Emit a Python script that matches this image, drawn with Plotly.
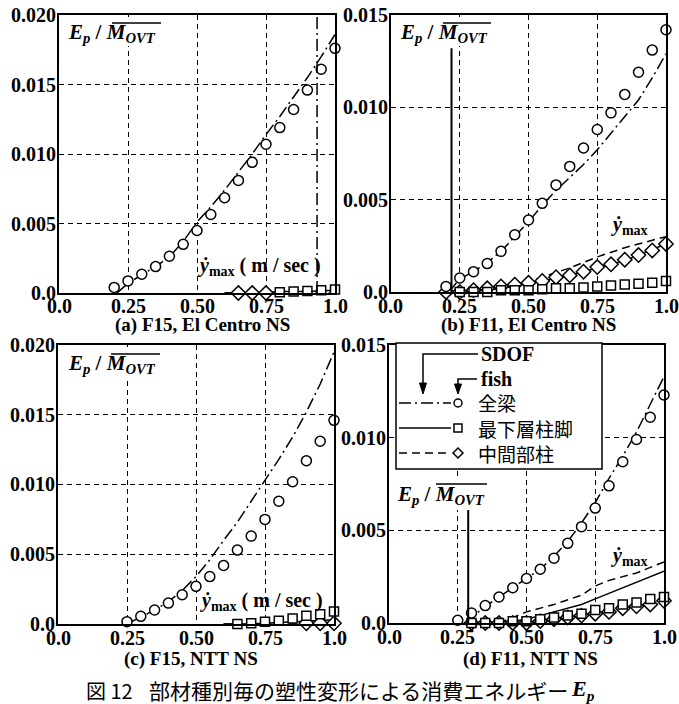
import plotly.graph_objects as go

W, H = 679, 704

# ---------------- data ----------------
xt_vals = [0.0, 0.25, 0.5, 0.75, 1.0]
xt_text = ["0.0", "0.25", "0.50", "0.75", "1.0"]
yt_vals_20 = [0.0, 0.005, 0.010, 0.015, 0.020]
yt_text_20 = ["0.0", "0.005", "0.010", "0.015", "0.020"]
yt_vals_15 = [0.0, 0.005, 0.010, 0.015]
yt_text_15 = ["0.0", "0.005", "0.010", "0.015"]

# (a) F15, El Centro NS
a_circle_x = [0.20, 0.25, 0.30, 0.35, 0.40, 0.45, 0.50, 0.55, 0.60, 0.65, 0.70, 0.75, 0.80, 0.85, 0.90, 0.95, 1.00]
a_circle = [0.0004, 0.00087, 0.00135, 0.0019, 0.00264, 0.0035, 0.0045, 0.00565, 0.00685, 0.0081, 0.0094, 0.0107, 0.0119, 0.0132, 0.0146, 0.0161, 0.0176]
a_beam_x = [0.21, 0.25, 0.30, 0.35, 0.40, 0.45, 0.50, 0.55, 0.60, 0.65, 0.70, 0.75, 0.80, 0.85, 0.90, 0.95, 1.00]
a_beam = [0.0, 0.0007, 0.0013, 0.0019, 0.0026, 0.0037, 0.0051, 0.0062, 0.0074, 0.0087, 0.0100, 0.0114, 0.0127, 0.0141, 0.0155, 0.0170, 0.0186]
a_base_x = [0.60, 0.70, 0.80, 0.90, 1.00]
a_base = [0.0, 0.0, 0.0001, 0.0001, 0.0002]
a_mid_x = [0.60, 0.70, 0.80, 0.90, 1.00]
a_mid = [0.0, 0.0, 0.0, 0.0, 0.0]
a_square_x = [0.80, 0.85, 0.90, 0.95, 1.00]
a_square = [0.00005, 0.0001, 0.00015, 0.0002, 0.00025]
a_diamond_x = [0.65, 0.70, 0.75]
a_diamond = [0.0, 0.0, 0.0]
a_ymax = 0.935

# (b) F11, El Centro NS
b_circle_x = [0.20, 0.25, 0.30, 0.35, 0.40, 0.45, 0.50, 0.55, 0.60, 0.65, 0.70, 0.75, 0.80, 0.85, 0.90, 0.95, 1.00]
b_circle = [0.0003, 0.00076, 0.0011, 0.00154, 0.0022, 0.0031, 0.0039, 0.0048, 0.0058, 0.0068, 0.0078, 0.0088, 0.0097, 0.0107, 0.0119, 0.0131, 0.0142]
b_beam_x = [0.21, 0.25, 0.30, 0.35, 0.40, 0.45, 0.50, 0.55, 0.60, 0.65, 0.70, 0.75, 0.80, 0.85, 0.90, 0.95, 1.00]
b_beam = [0.0, 0.0007, 0.0011, 0.0016, 0.0022, 0.0030, 0.0038, 0.0047, 0.0055, 0.0062, 0.0069, 0.0077, 0.0086, 0.0095, 0.0104, 0.0116, 0.0129]
b_base_x = [0.25, 0.35, 0.45, 0.55, 0.65, 0.75, 0.85, 1.00]
b_base = [0.0, 0.0001, 0.0003, 0.0006, 0.0009, 0.0013, 0.0017, 0.0026]
b_mid_x = [0.25, 0.35, 0.45, 0.50, 0.55, 0.65, 0.75, 0.85, 1.00]
b_mid = [0.0, 0.0001, 0.0004, 0.00055, 0.0008, 0.0013, 0.0019, 0.0024, 0.0030]
b_square_x = [0.25, 0.30, 0.35, 0.40, 0.45, 0.50, 0.55, 0.60, 0.65, 0.70, 0.75, 0.80, 0.85, 0.90, 0.95, 1.00]
b_square = [0.0, 0.0, 0.0, 0.0001, 0.0001, 0.0001, 0.00015, 0.0002, 0.0002, 0.00025, 0.0003, 0.00035, 0.0004, 0.00045, 0.0005, 0.0006]
b_diamond_x = [0.20, 0.25, 0.30, 0.35, 0.40, 0.45, 0.50, 0.55, 0.60, 0.65, 0.70, 0.75, 0.80, 0.85, 0.90, 0.95, 1.00]
b_diamond = [0.0, 0.0, 0.0001, 0.0002, 0.0003, 0.0004, 0.0005, 0.0006, 0.0008, 0.0009, 0.0011, 0.00135, 0.0015, 0.00175, 0.0020, 0.00225, 0.0026]
b_ymax = 0.22
b_ymax_top = 0.0132

# (c) F15, NTT NS
c_circle_x = [0.25, 0.30, 0.35, 0.40, 0.45, 0.50, 0.55, 0.60, 0.65, 0.70, 0.75, 0.80, 0.85, 0.90, 0.95, 1.00]
c_circle = [0.00017, 0.00055, 0.0010, 0.0015, 0.0021, 0.0027, 0.0034, 0.0042, 0.0053, 0.0063, 0.0075, 0.0088, 0.0102, 0.0117, 0.0131, 0.0146]
c_beam_x = [0.25, 0.30, 0.35, 0.40, 0.45, 0.50, 0.55, 0.60, 0.65, 0.70, 0.75, 0.80, 0.85, 0.90, 0.95, 1.00]
c_beam = [0.0, 0.0005, 0.0010, 0.0016, 0.0024, 0.0034, 0.0046, 0.0060, 0.0073, 0.0088, 0.0103, 0.0118, 0.0134, 0.0152, 0.0172, 0.0195]
c_base_x = [0.60, 0.70, 0.80, 0.90, 1.00]
c_base = [0.0, 0.0, 0.0001, 0.0002, 0.0003]
c_mid_x = [0.60, 0.70, 0.80, 0.90, 1.00]
c_mid = [0.0, 0.0, 0.0, 0.0, 0.0]
c_square_x = [0.65, 0.70, 0.75, 0.80, 0.85, 0.90, 0.95, 1.00]
c_square = [0.0, 0.00005, 0.00017, 0.00024, 0.0004, 0.0006, 0.0007, 0.0009]
c_diamond_x = [0.90, 0.95, 1.00]
c_diamond = [0.00005, 0.00005, 0.00005]

# (d) F11, NTT NS
d_circle_x = [0.25, 0.30, 0.35, 0.40, 0.45, 0.50, 0.55, 0.60, 0.65, 0.70, 0.75, 0.80, 0.85, 0.90, 0.95, 1.00]
d_circle = [0.00015, 0.00054, 0.00094, 0.0014, 0.0019, 0.0024, 0.0029, 0.0035, 0.0043, 0.0052, 0.0062, 0.0074, 0.0087, 0.0099, 0.0111, 0.0123]
d_beam_x = [0.28, 0.30, 0.35, 0.40, 0.45, 0.50, 0.55, 0.60, 0.65, 0.70, 0.75, 0.80, 0.85, 0.90, 0.95, 1.00]
d_beam = [0.0, 0.0003, 0.0009, 0.0014, 0.0019, 0.0024, 0.0029, 0.0036, 0.0044, 0.0054, 0.0065, 0.0078, 0.0090, 0.0103, 0.0118, 0.0133]
d_base_x = [0.40, 0.50, 0.60, 0.70, 0.75, 0.80, 0.90, 1.00]
d_base = [0.0, 0.0002, 0.0006, 0.0010, 0.0013, 0.0016, 0.0022, 0.0028]
d_mid_x = [0.40, 0.50, 0.60, 0.70, 0.75, 0.80, 0.90, 1.00]
d_mid = [0.0, 0.0006, 0.0010, 0.0015, 0.0020, 0.0023, 0.0027, 0.0033]
d_square_x = [0.30, 0.35, 0.40, 0.45, 0.50, 0.55, 0.60, 0.65, 0.70, 0.75, 0.80, 0.85, 0.90, 0.95, 1.00]
d_square = [0.0, 0.0, 0.0, 0.0001, 0.0001, 0.0002, 0.0003, 0.0004, 0.0005, 0.0007, 0.0008, 0.0010, 0.0011, 0.0013, 0.0014]
d_diamond_x = [0.30, 0.35, 0.40, 0.45, 0.50, 0.55, 0.60, 0.65, 0.70, 0.75, 0.80, 0.85, 0.90, 0.95, 1.00]
d_diamond = [0.0, 0.0, 0.0, 0.0, 0.0, 0.0001, 0.0002, 0.0003, 0.0004, 0.0005, 0.0006, 0.0008, 0.0009, 0.0010, 0.0012]
d_ymax = 0.288
d_ymax_top = 0.0075

subtitles = ["(a) F15, El Centro NS", "(b) F11, El Centro NS", "(c) F15, NTT NS", "(d) F11, NTT NS"]
legend_names = ["全梁", "最下層柱脚", "中間部柱"]
caption_fig = "図 12"
caption = "部材種別毎の塑性変形による消費エネルギー"

# ---------------- layout helpers ----------------
def PX(x):
    return x / W

def PY(y):
    return 1 - y / H

SERIF = "Liberation Serif"
CJK = "Noto Sans CJK JP"
BLACK = "black"
DASHDOT = "12px,4px,2px,4px"
DASHED = "8px,5px"
GRIDDASH = "5px,4px"

# panel boxes in pixels: (left, right, top, bottom)
boxes = {
    1: (59, 335, 15, 293),
    2: (391, 666, 15, 292),
    3: (58, 334, 345, 624),
    4: (389, 664, 345, 623),
}
yr = {1: 0.020, 2: 0.015, 3: 0.020, 4: 0.015}

fig = go.Figure()

panels = {
    1: dict(beam=(a_beam_x, a_beam), base=(a_base_x, a_base), mid=(a_mid_x, a_mid),
            dia=(a_diamond_x, a_diamond), sq=(a_square_x, a_square), cir=(a_circle_x, a_circle)),
    2: dict(beam=(b_beam_x, b_beam), base=(b_base_x, b_base), mid=(b_mid_x, b_mid),
            dia=(b_diamond_x, b_diamond), sq=(b_square_x, b_square), cir=(b_circle_x, b_circle)),
    3: dict(beam=(c_beam_x, c_beam), base=(c_base_x, c_base), mid=(c_mid_x, c_mid),
            dia=(c_diamond_x, c_diamond), sq=(c_square_x, c_square), cir=(c_circle_x, c_circle)),
    4: dict(beam=(d_beam_x, d_beam), base=(d_base_x, d_base), mid=(d_mid_x, d_mid),
            dia=(d_diamond_x, d_diamond), sq=(d_square_x, d_square), cir=(d_circle_x, d_circle)),
}

for k, p in panels.items():
    xa = "x" if k == 1 else f"x{k}"
    ya = "y" if k == 1 else f"y{k}"
    common = dict(xaxis=xa, yaxis=ya, showlegend=False, hoverinfo="skip", cliponaxis=False)
    fig.add_trace(go.Scatter(x=p["beam"][0], y=p["beam"][1], mode="lines",
                             line=dict(color=BLACK, width=1.5, dash=DASHDOT), **common))
    fig.add_trace(go.Scatter(x=p["base"][0], y=p["base"][1], mode="lines",
                             line=dict(color=BLACK, width=1.5), **common))
    fig.add_trace(go.Scatter(x=p["mid"][0], y=p["mid"][1], mode="lines",
                             line=dict(color=BLACK, width=1.5, dash=DASHED), **common))
    fig.add_trace(go.Scatter(x=p["dia"][0], y=p["dia"][1], mode="markers",
                             marker=dict(symbol="diamond", size=11, color="white",
                                         line=dict(color=BLACK, width=1.5)), **common))
    fig.add_trace(go.Scatter(x=p["sq"][0], y=p["sq"][1], mode="markers",
                             marker=dict(symbol="square", size=9, color="white",
                                         line=dict(color=BLACK, width=1.5)), **common))
    fig.add_trace(go.Scatter(x=p["cir"][0], y=p["cir"][1], mode="markers",
                             marker=dict(symbol="circle", size=10, color="white",
                                         line=dict(color=BLACK, width=1.5)), **common))

# ẏmax vertical lines (data)
fig.add_trace(go.Scatter(x=[a_ymax, a_ymax], y=[0, yr[1]], mode="lines", xaxis="x", yaxis="y",
                         line=dict(color=BLACK, width=1.5, dash=DASHDOT), showlegend=False, hoverinfo="skip"))
fig.add_trace(go.Scatter(x=[b_ymax, b_ymax], y=[0, b_ymax_top], mode="lines", xaxis="x2", yaxis="y2",
                         line=dict(color=BLACK, width=2), showlegend=False, hoverinfo="skip"))
fig.add_trace(go.Scatter(x=[d_ymax, d_ymax], y=[0, d_ymax_top], mode="lines", xaxis="x4", yaxis="y4",
                         line=dict(color=BLACK, width=2), showlegend=False, hoverinfo="skip"))

layout = dict(width=W, height=H, margin=dict(l=0, r=0, t=0, b=0),
              paper_bgcolor="white", plot_bgcolor="white", showlegend=False)

annotations = []
shapes = []
TICKFONT = dict(family=SERIF, size=20, color=BLACK, weight="bold")

for k, (l, r, t, b) in boxes.items():
    xkey = "xaxis" if k == 1 else f"xaxis{k}"
    ykey = "yaxis" if k == 1 else f"yaxis{k}"
    ya = "y" if k == 1 else f"y{k}"
    xa = "x" if k == 1 else f"x{k}"
    if yr[k] == 0.020:
        tv, tt = yt_vals_20, yt_text_20
    else:
        tv, tt = yt_vals_15, yt_text_15
    layout[xkey] = dict(domain=[PX(l), PX(r)], range=[0, 1.0], anchor=ya,
                        tickvals=xt_vals, showticklabels=False, showgrid=True, gridcolor=BLACK,
                        gridwidth=1.2, griddash=GRIDDASH, showline=True, mirror=True,
                        linecolor=BLACK, linewidth=2, ticks="", zeroline=False, automargin=False)
    layout[ykey] = dict(domain=[PY(b), PY(t)], range=[0, yr[k]], anchor=xa,
                        tickvals=tv, showticklabels=False, showgrid=True, gridcolor=BLACK,
                        gridwidth=1.2, griddash=GRIDDASH, showline=True, mirror=True,
                        linecolor=BLACK, linewidth=2, ticks="", zeroline=False, automargin=False)
    # tick labels placed through the axis scales
    for v, s in zip(xt_vals, xt_text):
        annotations.append(dict(x=v, xref=xa, y=PY(b + 13.5), yref="paper", xanchor="center",
                                yanchor="middle", text=s, showarrow=False, font=TICKFONT))
    for v, s in zip(tv, tt):
        annotations.append(dict(x=PX(l - 1), xref="paper", y=v, yref=ya, xanchor="right",
                                yanchor="middle", text=s, showarrow=False, font=TICKFONT))

# E_p / M_OVT labels: (text left, center y, white box x0,x1,y0,y1, overline x0, x1, y)
eplabel = "<b><i>E</i></b><sub><b><i>p</i></b></sub><b> / </b><b><i>M</i></b><sub><b><i>OVT</i></b></sub>"
ep_pos = [
    (66, 33, 62, 164, 17, 46, 112, 161, 23),
    (398, 33, 394, 496, 17, 46, 443, 491, 23),
    (66, 364, 61, 163, 347, 377, 111, 160, 354),
    (395, 495, 392, 492, 480, 510, 436, 487, 484),
]
for (x0, yc, bx0, bx1, by0, by1, ox0, ox1, oy) in ep_pos:
    shapes.append(dict(type="rect", xref="paper", yref="paper", x0=PX(bx0), x1=PX(bx1), y0=PY(by1), y1=PY(by0),
                       line=dict(width=0), fillcolor="white", layer="above"))
    shapes.append(dict(type="line", xref="paper", yref="paper", x0=PX(ox0), x1=PX(ox1), y0=PY(oy), y1=PY(oy),
                       line=dict(color=BLACK, width=1.5), layer="above"))
    annotations.append(dict(x=PX(x0), y=PY(yc), xref="paper", yref="paper", xanchor="left", yanchor="middle",
                            text=eplabel, showarrow=False,
                            font=dict(family=SERIF, size=21, color=BLACK)))

# ẏmax labels
ymax_full = "<b><i>ẏ</i></b><sub><b>max</b></sub><b> ( m / sec )</b>"
ymax_short = "<b><i>ẏ</i></b><sub><b>max</b></sub>"
for (x0, yc, txt) in [(196, 266, ymax_full), (609, 225, ymax_short), (198, 601, ymax_full), (609, 556, ymax_short)]:
    annotations.append(dict(x=PX(x0), y=PY(yc), xref="paper", yref="paper", xanchor="left", yanchor="middle",
                            text=txt, showarrow=False, font=dict(family=SERIF, size=20, color=BLACK)))

# subtitles
for (xc, yc), s in zip([(202, 325), (528, 325), (191, 659), (530, 659)], subtitles):
    annotations.append(dict(x=PX(xc), y=PY(yc), xref="paper", yref="paper", xanchor="center", yanchor="middle",
                            text=s, showarrow=False, font=dict(family=SERIF, size=19, color=BLACK, weight="bold")))

# caption
annotations.append(dict(x=PX(84), y=PY(690), xref="paper", yref="paper", xanchor="left", yanchor="middle",
                        text=caption_fig, showarrow=False, font=dict(family=CJK, size=20, color=BLACK)))
annotations.append(dict(x=PX(147), y=PY(690), xref="paper", yref="paper", xanchor="left", yanchor="middle",
                        text=caption, showarrow=False, font=dict(family=CJK, size=21, color=BLACK)))
annotations.append(dict(x=PX(569), y=PY(690), xref="paper", yref="paper", xanchor="left", yanchor="middle",
                        text="<b><i>E</i></b><sub><b><i>p</i></b></sub>", showarrow=False,
                        font=dict(family=SERIF, size=22, color=BLACK)))

# ---- legend in panel (d) ----
shapes.append(dict(type="rect", xref="paper", yref="paper", x0=PX(396), x1=PX(602), y0=PY(469), y1=PY(343),
                   line=dict(color=BLACK, width=1.5), fillcolor="white", layer="above"))
# SDOF connector + arrow
shapes.append(dict(type="path", xref="paper", yref="paper",
                   path=f"M {PX(478)},{PY(354)} L {PX(423)},{PY(354)} L {PX(423)},{PY(386)}",
                   line=dict(color=BLACK, width=1.5), layer="above"))
shapes.append(dict(type="path", xref="paper", yref="paper",
                   path=f"M {PX(419.5)},{PY(383)} L {PX(426.5)},{PY(383)} L {PX(423)},{PY(394)} Z",
                   line=dict(color=BLACK, width=1), fillcolor=BLACK, layer="above"))
# fish connector + arrow
shapes.append(dict(type="path", xref="paper", yref="paper",
                   path=f"M {PX(477)},{PY(379)} L {PX(458)},{PY(379)} L {PX(458)},{PY(387)}",
                   line=dict(color=BLACK, width=1.5), layer="above"))
shapes.append(dict(type="path", xref="paper", yref="paper",
                   path=f"M {PX(454.5)},{PY(384)} L {PX(461.5)},{PY(384)} L {PX(458)},{PY(394)} Z",
                   line=dict(color=BLACK, width=1), fillcolor=BLACK, layer="above"))
annotations.append(dict(x=PX(479), y=PY(354), xref="paper", yref="paper", xanchor="left", yanchor="middle",
                        text="<b>SDOF</b>", showarrow=False, font=dict(family=SERIF, size=20, color=BLACK)))
annotations.append(dict(x=PX(479), y=PY(379), xref="paper", yref="paper", xanchor="left", yanchor="middle",
                        text="<b>fish</b>", showarrow=False, font=dict(family=SERIF, size=20, color=BLACK)))
row_y = [403, 428, 453]
row_dash = [DASHDOT, "solid", DASHED]
for i, (yy, dsh, name) in enumerate(zip(row_y, row_dash, legend_names)):
    shapes.append(dict(type="line", xref="paper", yref="paper", x0=PX(399), x1=PX(451), y0=PY(yy), y1=PY(yy),
                       line=dict(color=BLACK, width=1.5, dash=dsh), layer="above"))
    mx = 458
    if i == 0:
        shapes.append(dict(type="circle", xref="paper", yref="paper", x0=PX(mx - 4), x1=PX(mx + 4),
                           y0=PY(yy + 4), y1=PY(yy - 4), line=dict(color=BLACK, width=1.5), layer="above"))
    elif i == 1:
        shapes.append(dict(type="rect", xref="paper", yref="paper", x0=PX(mx - 4), x1=PX(mx + 4),
                           y0=PY(yy + 4), y1=PY(yy - 4), line=dict(color=BLACK, width=1.5), layer="above"))
    else:
        shapes.append(dict(type="path", xref="paper", yref="paper",
                           path=f"M {PX(mx-5)},{PY(yy)} L {PX(mx)},{PY(yy-5)} L {PX(mx+5)},{PY(yy)} L {PX(mx)},{PY(yy+5)} Z",
                           line=dict(color=BLACK, width=1.5), layer="above"))
    annotations.append(dict(x=PX(476), y=PY(yy), xref="paper", yref="paper", xanchor="left", yanchor="middle",
                            text=name, showarrow=False, font=dict(family=CJK, size=19, color=BLACK)))

layout["annotations"] = annotations
layout["shapes"] = shapes
fig.update_layout(**layout)

fig.write_html("out.html")
